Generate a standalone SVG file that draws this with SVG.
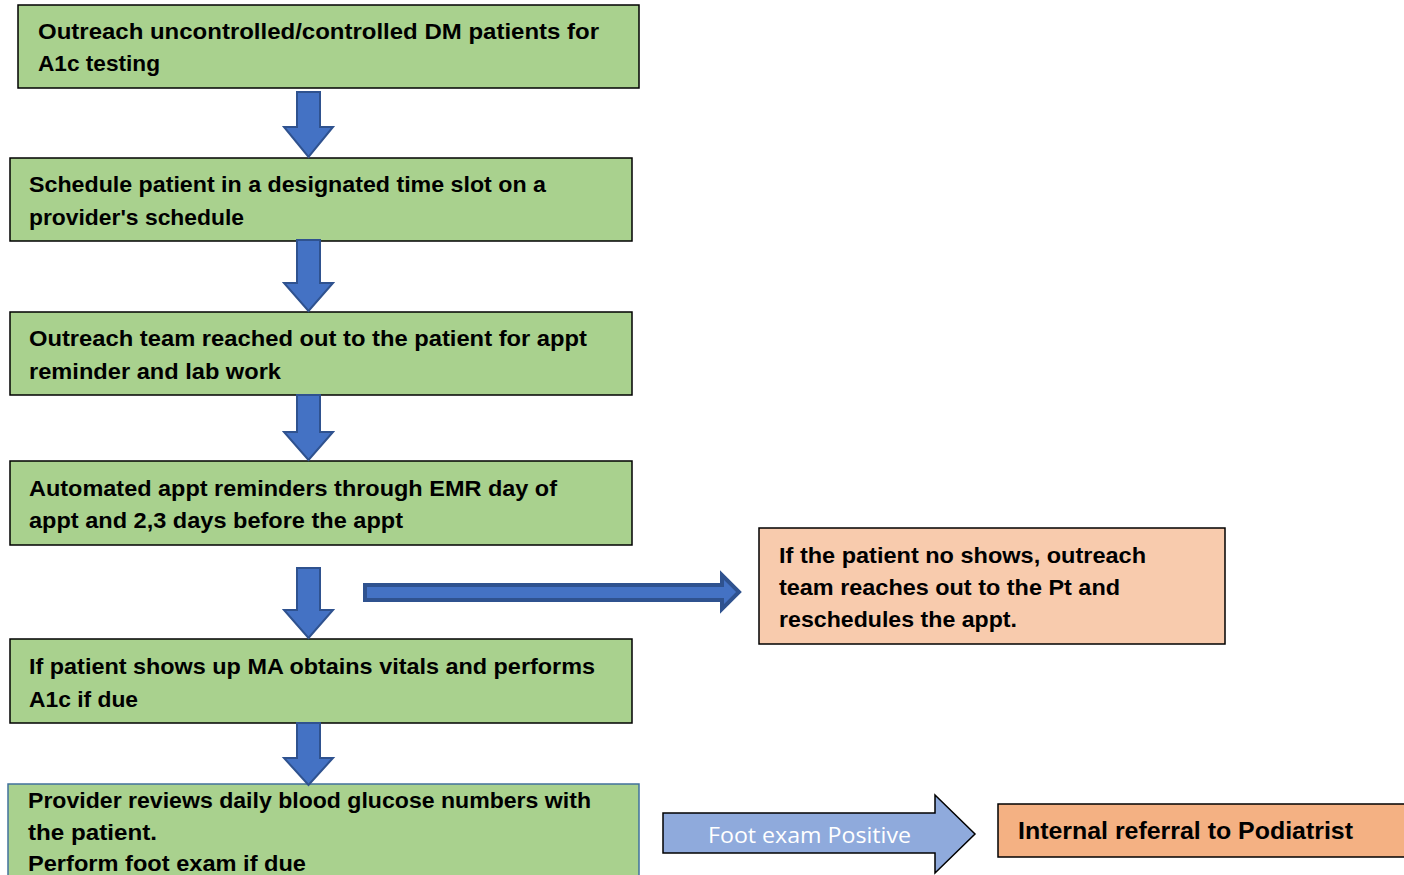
<svg xmlns="http://www.w3.org/2000/svg" width="1404" height="875" viewBox="0 0 1404 875">
<style>
.g{fill:#A9D18E;stroke:#000;stroke-width:1.5}
.o{fill:#F8CBAD;stroke:#000;stroke-width:1.5}
.o2{fill:#F4B183;stroke:#000;stroke-width:1.5}
.t{font-family:"Liberation Sans",Arial,sans-serif;font-weight:bold;font-size:22px;fill:#000}
.w{font-family:"Open Sans","Liberation Sans",sans-serif;font-size:22px;fill:#fff}
.a{fill:#4472C4;stroke:#2F528F;stroke-width:2}
</style>
<rect width="1404" height="875" fill="#fff"/>
<g id="n1"><rect class="g" x="18" y="5" width="621" height="83"/>
<text class="t" x="38" y="39" textLength="561" lengthAdjust="spacingAndGlyphs">Outreach uncontrolled/controlled DM  patients for</text>
<text class="t" x="38" y="71" textLength="122" lengthAdjust="spacingAndGlyphs">A1c testing</text></g>
<g id="n2"><rect class="g" x="10" y="158" width="622" height="83"/>
<text class="t" x="29" y="192" textLength="517" lengthAdjust="spacingAndGlyphs">Schedule patient in a designated time slot on a</text>
<text class="t" x="29" y="225" textLength="215" lengthAdjust="spacingAndGlyphs">provider's schedule</text></g>
<g id="n3"><rect class="g" x="10" y="312" width="622" height="83"/>
<text class="t" x="29" y="346" textLength="558" lengthAdjust="spacingAndGlyphs">Outreach team reached out to the patient for appt</text>
<text class="t" x="29" y="379" textLength="252" lengthAdjust="spacingAndGlyphs">reminder and lab work</text></g>
<g id="n4"><rect class="g" x="10" y="461" width="622" height="84"/>
<text class="t" x="29" y="496" textLength="528" lengthAdjust="spacingAndGlyphs">Automated appt reminders through EMR day of</text>
<text class="t" x="29" y="528" textLength="374" lengthAdjust="spacingAndGlyphs">appt and 2,3 days before the appt</text></g>
<g id="n5"><rect class="g" x="10" y="639" width="622" height="84"/>
<text class="t" x="29" y="674" textLength="566" lengthAdjust="spacingAndGlyphs">If patient shows up MA obtains vitals and performs</text>
<text class="t" x="29" y="707" textLength="109" lengthAdjust="spacingAndGlyphs">A1c if due</text></g>
<g id="n6"><rect x="8" y="784" width="631" height="100" fill="#A9D18E" stroke="#41719C" stroke-width="1.5"/>
<text class="t" x="28" y="808" textLength="563" lengthAdjust="spacingAndGlyphs">Provider reviews daily blood glucose numbers with</text>
<text class="t" x="28" y="840" textLength="129" lengthAdjust="spacingAndGlyphs">the patient.</text>
<text class="t" x="28" y="871" textLength="278" lengthAdjust="spacingAndGlyphs">Perform foot exam if due</text></g>
<g id="n7"><rect class="o" x="759" y="528" width="466" height="116"/>
<text class="t" x="779" y="563" textLength="367" lengthAdjust="spacingAndGlyphs">If the patient no shows, outreach</text>
<text class="t" x="779" y="595" textLength="341" lengthAdjust="spacingAndGlyphs">team reaches out to the Pt and</text>
<text class="t" x="779" y="627" textLength="238" lengthAdjust="spacingAndGlyphs">reschedules the appt.</text></g>
<g id="n8"><path d="M663,813 H935 V795 L975,834 L935,873 V853 H663 Z" fill="#8FAADC" stroke="#000" stroke-width="1.5"/>
<text class="w" x="708" y="843" textLength="203" lengthAdjust="spacingAndGlyphs">Foot exam Positive</text></g>
<g id="n9"><rect class="o2" x="998" y="804" width="420" height="53"/>
<text class="t" x="1018" y="839" style="font-size:24px" textLength="335" lengthAdjust="spacingAndGlyphs">Internal referral to Podiatrist</text></g>
<g id="connectors">
<path class="a" d="M297,92 H320 V127 H333 L308.5,157 L284,127 H297 Z"/>
<path class="a" d="M297,240 H320 V283 H333 L308.5,311 L284,283 H297 Z"/>
<path class="a" d="M297,395 H320 V432 H333 L308.5,460 L284,432 H297 Z"/>
<path class="a" d="M297,568 H320 V610 H333 L308.5,638 L284,610 H297 Z"/>
<path class="a" d="M297,723 H320 V758 H333 L308.5,785 L284,758 H297 Z"/>
<path class="a" style="stroke-width:4" d="M365,585 H722 V575 L739,592 L722,609 V600 H365 Z"/>
</g>
</svg>
